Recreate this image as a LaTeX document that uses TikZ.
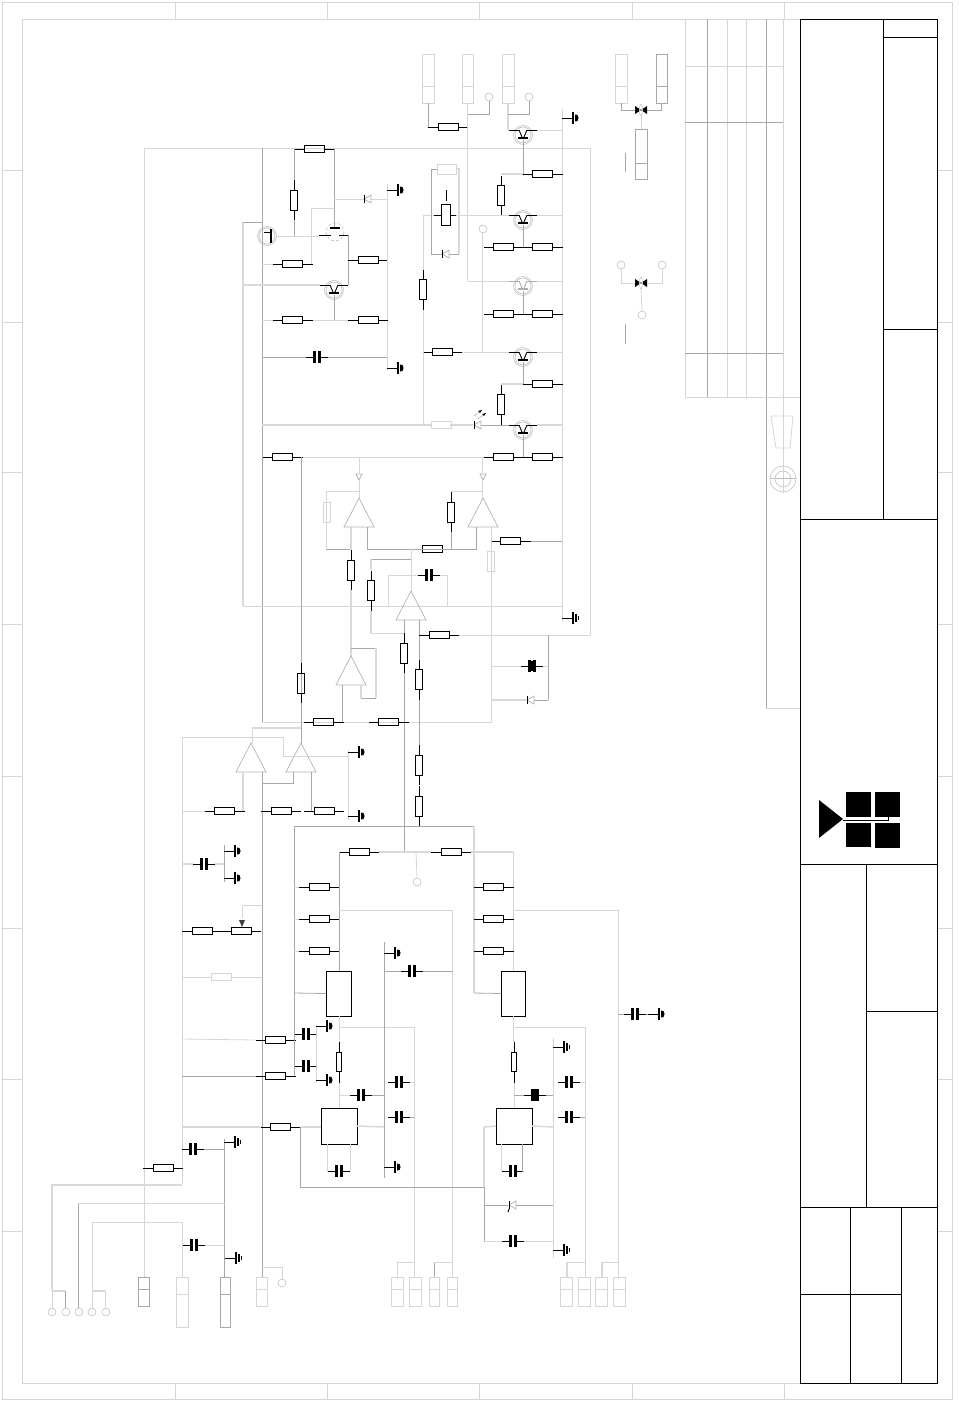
\documentclass[tikz,border=0pt]{standalone}
\usetikzlibrary{positioning}
\tikzset{
    wl/.style={draw=gray!32,line width=.8pt},
    wm/.style={draw=gray!68,line width=.8pt},
    wt/.style={draw=gray!30,line width=1.5pt},
    part/.style={draw=black,line width=.9pt},
    title/.style={draw=black,line width=.9pt},
    pin/.style={circle,draw=gray!50,line width=.6pt,minimum size=8pt,inner sep=0pt},
    box/.style={rectangle,inner sep=0pt,outer sep=0pt}
}
% resistors: name, centre x, centre y
\newcommand{\resh}[4][part]{
    \node[box,#1,minimum width=20pt,minimum height=7pt] (#2) at (#3,#4) {};
    \draw[#1] (#2.west) -- ++(-10,0) coordinate (#2a);
    \draw[#1] (#2.east) -- ++(10,0) coordinate (#2b);
}
\newcommand{\resv}[4][part]{
    \node[box,#1,minimum width=7pt,minimum height=20pt] (#2) at (#3,#4) {};
    \draw[#1] (#2.north) -- ++(0,-10) coordinate (#2a);
    \draw[#1] (#2.south) -- ++(0,10) coordinate (#2b);
}
% capacitor
\newcommand{\capa}[3]{
    \coordinate (#1) at (#2,#3);
    \draw[part,line width=2.2pt] (#1) ++(-2.5,-6) -- ++(0,12);
    \draw[part,line width=2.2pt] (#1) ++(2.5,-6) -- ++(0,12);
    \draw[part] (#1) ++(-2.5,0) -- ++(-8.5,0) coordinate (#1a);
    \draw[part] (#1) ++(2.5,0) -- ++(8.5,0) coordinate (#1b);
}
% grounds
\newcommand{\gnd}[2]{
    \draw[part] (#1,#2) -- ++(11,0);
    \draw[part,line width=1.6pt] (#1,#2) ++(11,-6) -- ++(0,12);
    \fill[black] (#1,#2) ++(13,-3.5) -- ++(2.5,.5) -- ++(1,3) -- ++(-1,3) -- ++(-2.5,.5) -- cycle;
}
\newcommand{\gndb}[2]{
    \draw[part] (#1,#2) -- ++(11,0);
    \draw[part,line width=1.4pt] (#1,#2) ++(11,-6) -- ++(0,12);
    \draw[part,line width=1.2pt] (#1,#2) ++(14,-4) -- ++(0,8);
    \draw[part,line width=1.2pt] (#1,#2) ++(16.5,-2) -- ++(0,4);
}
% thin diode
\newcommand{\diode}[3]{
    \coordinate (#1) at (#2,#3);
    \draw[draw=gray!60,line width=.7pt,fill=white] (#2+4,#3-4) -- (#2+4,#3+4) -- (#2-3,#3) -- cycle;
    \draw[black,line width=.8pt] (#2-3,#3-4) -- (#2-3,#3+4);
}
% small triangle on an op amp output
\newcommand{\dtri}[3]{
    \coordinate (#1) at (#2,#3);
    \draw[draw=gray!60,line width=.7pt,fill=white] (#2-3,#3-3) -- (#2+3,#3-3) -- (#2,#3+3) -- cycle;
}
% transistor, leads on y, base going down
\newcommand{\qdn}[4][black]{
    \coordinate (#2) at (#3,#4);
    \draw[gray!50,line width=.6pt] (#3,#4+5) circle (9.5);
    \draw[gray!50,line width=.6pt] (#3,#4+5) circle (8);
    \draw[#1,line width=.9pt] (#3-14,#4) -- (#3-4,#4) (#3+4,#4) -- (#3+14,#4);
    \draw[#1,line width=.9pt] (#3-4,#4) -- (#3-1,#4+7) (#3+4,#4) -- (#3+1,#4+7);
    \draw[#1,line width=1.8pt] (#3-5,#4+8) -- (#3+5,#4+8);
    \coordinate (#2l) at (#3-14,#4);
    \coordinate (#2r) at (#3+14,#4);
    \coordinate (#2b) at (#3,#4+10);
}
% op amp, apex at x,y
\newcommand{\opamp}[3]{
    \coordinate (#1) at (#2,#3);
    \draw[gray!60,line width=.7pt] (#2,#3) -- (#2+15,#3+29) -- (#2-15,#3+29) -- cycle;
}
% connector: name, left, top, width, height, divider
\newcommand{\conn}[7][wl]{
    \node[box,#1,anchor=north west,minimum width=#5pt,minimum height=#6pt] (#2) at (#3,#4) {};
    \draw[#1] (#3,#4+#7) -- ++(#5,0);
}
\newcommand{\chip}[5]{
    \node[box,part,anchor=north west,minimum width=#4pt,minimum height=#5pt] (#1) at (#2,#3) {};
}
% black diode pair of the two switches
\newcommand{\swt}[1]{
    \fill[black] (635,#1-4) -- (635,#1+4) -- (641,#1) -- cycle;
    \fill[black] (647,#1-4) -- (647,#1+4) -- (641,#1) -- cycle;
    \draw[gray!45,line width=.6pt] (641,#1) ellipse (1.5 and 6);
}
\begin{document}
\begin{tikzpicture}[x=1pt,y=-1pt]
    \useasboundingbox (0,0) rectangle (958,1402);
    % sheet
    \draw[wl] (2,2) rectangle (952,1399);
    \draw[wl] (22,19) rectangle (937,1383);
    \foreach \i in {175,327,479,632,784} {
        \draw[wl] (\i,2) -- (\i,19);
        \draw[wl] (\i,1383) -- (\i,1399);
    }
    \foreach \j in {170,322,472,624,776,928,1079,1231} {
        \draw[wl] (2,\j) -- (22,\j);
        \draw[wl] (937,\j) -- (952,\j);
    }
    % table
    \foreach \i/\s in {685/wl,707/wm,727/wl,746/wl,766/wm} {
        \draw[\s] (\i,19) -- (\i,397);
    }
    \draw[wl] (783,19) -- (783,493);
    \draw[wm] (766,397) -- (766,708);
    \draw[wl] (766,708) -- (800,708);
    \draw[wl] (685,66) -- (783,66);
    \draw[wm] (685,122) -- (783,122);
    \draw[wm] (685,353) -- (783,353);
    \draw[wl] (685,397) -- (800,397);
    \draw[wl] (771,416) -- (793,416) -- (790,448) -- (776,448) -- cycle;
    \draw[gray!50,line width=.6pt] (783,479) circle (13) (783,479) circle (8);
    \draw[gray!50,line width=.6pt] (770,478) -- (796,478);
    % title block
    \draw[title] (800,19) rectangle (937,1383);
    \draw[title] (883,19) -- (883,519);
    \draw[title] (883,37) -- (937,37);
    \draw[title] (883,329) -- (937,329);
    \draw[title] (800,519) -- (937,519);
    \draw[title] (800,864) -- (937,864);
    \draw[title] (866,864) -- (866,1207);
    \draw[title] (866,1011) -- (937,1011);
    \draw[title] (800,1207) -- (937,1207);
    \draw[title] (850,1207) -- (850,1383);
    \draw[title] (901,1207) -- (901,1383);
    \draw[title] (800,1294) -- (901,1294);
    % logo
    \fill[black] (819,800) -- (819,838) -- (843,819) -- cycle;
    \fill[black] (846,792) rectangle (871,817);
    \fill[black] (875,792) rectangle (900,817);
    \fill[black] (846,823) rectangle (871,847);
    \fill[black] (875,823) rectangle (900,848);
    \draw[black,line width=.7pt] (843,820) -- (888,820) -- (888,817);

    % top connectors
    \conn[wl]{ca}{422}{54}{12}{49}{32}
    \conn[wl]{cb}{462}{54}{11}{49}{32}
    \conn[wl]{cc}{502}{54}{12}{49}{32}
    \conn[wl]{cd}{615}{54}{12}{49}{32}
    \conn[wm]{ce}{656}{54}{11}{49}{32}
    \conn[wm]{cf}{635}{129}{12}{50}{34}
    \node[pin] (pa) at (489,97) {};
    \node[pin] (pb) at (529,97) {};
    % switches
    \swt{110}
    \swt{283}
    \node[pin] (pc) at (621,265) {};
    \node[pin] (pd) at (662,265) {};
    \node[pin] (pe) at (642,315) {};
    \draw[wm] (cd.south) |- (635,110);
    \draw[wm] (ce.south) |- (647,110);
    \draw[wl] (641,116) -- (cf.north);
    \draw[wl] (pc.south) |- (635,283);
    \draw[wl] (pd.south) |- (647,283);
    \draw[wl] (641,289) -- (pe.north);
    \draw[wm] (625,153) -- (625,172);
    \draw[wm] (625,324) -- (625,344);

    % outer loops
    \draw[wl] (144,1277) -- (144,148) -- (590,148) -- (590,635);
    \draw[wm] (262,148) -- (262,722);
    \draw[wt] (243,222) -- (243,606);
    \draw[wm] (243,222) -- (262,222);
    \draw[wl] (243,606) -- (562,606);
    \draw[wl] (562,109) -- (562,622);
    \draw[wl] (262,722) -- (491,722) -- (491,527);

    % top right transistors
    \resh[part]{ra}{448}{127}
    \draw[wm] (428,103) |- (raa);
    \draw[wl] (rab) -- (467.5,127);
    \draw[wl] (467.5,103) -- (467.5,281);
    \draw[wm] (467.5,114) -| (pa.south);
    \draw[wt] (508,103) -- (508,130);
    \draw[wm] (508,114) -| (pb.south);
    \qdn{qa}{523}{130}
    \draw[wt] (508,130) -- (qal);
    \draw[wl] (qar) -- (562,130);
    \gnd{562}{118}
    \resh{rb}{542.5}{174}
    \draw[wm] (qab) -- (523,174);
    \draw[wt] (501,174) -- (rba);
    \resv{rc}{501}{195.5}
    \qdn{qb}{523}{215}
    \draw[wl] (423,215) -- (434,215);
    \draw[wl] (456,215) -- (qbl);
    \draw[wl] (qbr) -- (562,215);
    \draw[wm] (qbb) -- (523,247);
    \resh{rd}{503.5}{247}
    \resh{re}{542.5}{247}
    \node[pin] (pf) at (483,229) {};
    \draw[wl] (482.5,233) -- (482.5,352);
    \qdn[gray!65]{qc}{523}{281}
    \draw[wl] (467.5,281) -- (qcl);
    \draw[wl] (qcr) -- (562,281);
    \draw[wm] (qcb) -- (523,314);
    \resh{rf}{503.5}{314}
    \resh{rg}{542.5}{314}
    \qdn{qd}{523}{352}
    \resh{rh}{442}{352}
    \draw[wl] (423,352) -- (rha);
    \draw[wl] (rhb) -- (qdl);
    \draw[wl] (qdr) -- (562,352);
    \draw[wm] (qdb) -- (523,384);
    \draw[wt] (501,384) -- (523,384);
    \resh{ri}{542.5}{384}
    \resv{rj}{501}{404.5}
    \qdn{qe}{523}{425}
    \draw[wm] (qeb) -- (523,457);
    \resh{rk}{503.5}{457}
    \resh{rl}{542.5}{457}
    \draw[wt] (262,425) -- (432,425);
    \draw[wt] (450,425) -- (473,425);
    \draw[wm] (481,425) -- (qel);
    \draw[wt] (qer) -- (562,425);
    \resh[wl]{rm}{441}{425}
    \diode{da}{477}{425}
    \draw[gray!60,line width=.6pt] (474,416) -- (481,411) (478,419) -- (485,414);
    \fill[black] (482,410) -- (478,411) -- (480,413) -- cycle;
    \fill[black] (486,413) -- (482,414) -- (484,416) -- cycle;

    % relay
    \resv{rn}{423}{289.5}
    \node[box,part,minimum width=9pt,minimum height=21pt] (ka) at (445.5,215) {};
    \draw[part] (ka.west) -- (434,215);
    \draw[part] (ka.east) -- (456,215);
    \draw[part] (446,190) -- (446,201);
    \node[box,wl,minimum width=19pt,minimum height=10pt] (ro) at (446.5,169) {};
    \draw[wm] (431,254) |- (ro.west);
    \draw[wt] (ro.east) -| (459,254);
    \draw[wm] (431,254) -- (459,254);
    \diode{db}{445}{254}
    \draw[wl] (423,215) -- (rna);
    \draw[wl] (rnb) -- (423,425);

    % top left block
    \resh{rp}{314}{149}
    \resv{rq}{294}{200}
    \draw[wm] (rpa) -- (294,149) -- (rqa);
    \draw[wm] (rpb) -- (334,149) -- (334,227);
    \draw[wm] (rqb) -- (294,236);
    \draw[gray!50,line width=.6pt] (267,236) circle (9.5) (267,236) circle (8);
    \draw[black,line width=1.8pt] (271,229) -- (271,243);
    \draw[black,line width=.9pt] (264,232) -- (271,232);
    \draw[wl] (276,236) -- (319,236);
    \draw[gray!50,line width=.6pt,densely dashed] (335,232) circle (9);
    \draw[black,line width=1.8pt] (330,228) -- (340,228);
    \draw[black,line width=.9pt] (319,235) -- (331,235) (339,235) -- (348,235);
    \draw[wl] (334,199) -- (387,199);
    \diode{dc}{367}{199}
    \draw[wl] (334,208) -- (311,208) -- (311,264);
    \resh{rr}{292.5}{264}
    \draw[wl] (262,264) -- (rra);
    \draw[wm] (348,235) -- (348,285);
    \resh{rs}{368}{260}
    \draw[wl] (387,184) -- (387,370);
    \gnd{387}{190}
    \gnd{387}{368}
    \qdn{qf}{334}{285}
    \draw[wt] (243,285) -- (qfl);
    \draw[wm] (qfb) -- (334,320);
    \resh{rt}{292.5}{320}
    \resh{ru}{368}{320}
    \draw[wl] (262,320) -- (rta);
    \draw[wl] (rtb) -- (rua);
    \capa{ca1}{317}{357}
    \draw[wm] (262,357) -- (ca1a);
    \draw[wm] (ca1b) -- (387,357);

    % long line from the left block
    \resh{rv}{282.5}{457}
    \draw[wl] (rvb) -- (rka);
    \draw[wm] (301,457) -- (301,743);

    % op amps upper
    \opamp{oa}{359}{498}
    \opamp{ob}{483}{498}
    \dtri{ta}{359}{477}
    \dtri{tb}{483}{477}
    \draw[wl] (359,457) -- (359,474);
    \draw[wl] (359,480) -- (359,498);
    \draw[wl] (482.5,457) -- (482.5,474);
    \draw[wl] (482.5,480) -- (482.5,498);
    \draw[wl] (359,491) -- (326,491) -- (326,549);
    \draw[wm] (326,549) -- (351,549);
    \resv[wl]{rw}{326.5}{512}
    \resv{rx}{351}{570}
    \draw[wt] (351,527) -- (351,550);
    \draw[wt] (351,590) -- (351,656);
    \draw[wm] (367,527) -- (367,549) -- (411,549);
    \resh{ry}{432.5}{549}
    \draw[wm] (411,549) -- (ryb);
    \resv{rz}{451}{512}
    \draw[wl] (rza) -- (451,491) -- (483,491);
    \draw[wm] (rzb) -- (451,549) -- (476,549) -- (476,527);
    \resh{rab}{510.5}{541}
    \draw[wm] (rabb) -- (562,541);
    \resv[wl]{rac}{491}{561}
    % op amp C
    \opamp{oc}{411}{591}
    \draw[wl] (411,549) -- (411,591);
    \draw[wm] (371,559) -- (411,559);
    \resv{rad}{371}{590.5}
    \draw[wt] (371,559) -- (371,570);
    \draw[wt] (371,611) -- (371,633);
    \draw[wl] (371,633) -- (404,633);
    \capa{cb1}{429}{575}
    \draw[wl] (388,606) -- (388,575) -- (cb1a);
    \draw[wl] (cb1b) -- (447,575) -- (447,606);
    \gndb{562}{618}
    % x=404 and x=419
    \resv{rae}{404}{653}
    \draw[wm] (404,620) -- (raea);
    \draw[wm] (raeb) -- (404,852);
    \resv{raf}{419}{679.5}
    \resv{rag}{419}{765}
    \resv{rah}{419}{806}
    \draw[wm] (419,620) -- (rafa);
    \draw[wm] (rafb) -- (raga);
    \draw[wm] (rahb) -- (419,826);
    \resh{rai}{439}{635}
    \draw[wl] (raib) -- (590,635);
    \draw[wm] (548,635) -- (548,700);
    \capa{cc1}{532}{666}
    \fill[black] (529,661) rectangle (535,671);
    \draw[wl] (491,666) -- (cc1a);
    \draw[wl] (cc1b) -- (548,666);
    \diode{dd}{530}{700}
    \draw[wt] (491,700) -- (526,700);
    \draw[wm] (534,700) -- (548,700);

    % op amp D
    \opamp{od}{351}{656}
    \draw[wm] (351,648) -- (376,648);
    \draw[wt] (376,648) -- (376,698);
    \draw[wm] (376,698) -- (361,698);
    \draw[wt] (361,698) -- (361,685);
    \draw[wm] (342,685) -- (342,722);
    \resv{raj}{301}{683}
    \resh{rak}{323.5}{722}
    \resh{ral}{388.5}{722}
    % op amps E and F
    \opamp{oe}{251}{743}
    \opamp{of}{301}{743}
    \draw[wt] (252,728) -- (301,728);
    \draw[wl] (252,728) -- (252,743);
    \draw[wl] (182,1184) -- (182,737) -- (283,737) -- (283,756) -- (348,756);
    \draw[wl] (348,750) -- (348,820);
    \gnd{348}{752}
    \gnd{348}{816}
    \draw[wm] (262,772) -- (262,1277);
    \draw[wm] (262,783) -- (293,783) -- (293,772);
    \draw[wt] (243,772) -- (243,811);
    \draw[wm] (311,772) -- (311,811);
    \resh{ram}{224.5}{811}
    \resh{ran}{281}{811}
    \resh{rao}{324}{811}
    \draw[wl] (182,811) -- (rama);
    % left side
    \capa{cd1}{204}{864}
    \draw[wt] (182,864) -- (cd1a);
    \draw[wt] (cd1b) -- (224,864);
    \draw[wm] (224,845) -- (224,882);
    \gnd{224}{851}
    \gnd{224}{878}
    \resh{rap}{202}{931}
    \resh{raq}{241}{931}
    \draw[wl] (262,905) -- (242,905) -- (242,918);
    \fill[black!75] (239,920) -- (245,920) -- (242,927) -- cycle;
    \resh[wl]{rar}{221.5}{977}
    \draw[wl] (182,977) -- (rara);
    \draw[wl] (rarb) -- (262,977);
    \resh{ras}{275.5}{1040}
    \resh{rat}{275.5}{1076}
    \draw[wl] (182,1039) -- (rasa);
    \draw[wm] (182,1076) -- (rata);
    \resh{rau}{280.5}{1127}
    \draw[wt] (182,1127) -- (raua);
    \draw[wt] (raub) -- (321,1127);
    \capa{ce1}{193}{1149}
    \draw[wm] (ce1b) -- (224,1149);
    \draw[wm] (224,1139) -- (224,1277);
    \gndb{224}{1142}
    \resh{rav}{163}{1168}
    \draw[wt] (52,1291) -- (52,1185) -- (182,1185);
    \draw[wl] (52,1291) -- (52,1308);
    \draw[wm] (78,1308) -- (78,1203);
    \draw[wl] (78,1203) -- (225,1203);
    \draw[wl] (92,1308) -- (92,1222) -- (182,1222) -- (182,1277);
    \capa{cf1}{194}{1245}
    \draw[wl] (cf1b) -- (224,1245);
    \gndb{225}{1258}

    % central block
    \draw[wm] (294,1076) -- (294,826) -- (474,826);
    \draw[wt] (474,826) -- (474,993);
    \resh{raw}{359}{852}
    \resh{rax}{451}{852}
    \draw[wt] (rawb) -- (raxa);
    \draw[wt] (raxb) -- (513,852);
    \draw[wl] (513,852) -- (513,971);
    \draw[wm] (339,852) -- (339,971);
    \node[pin] (pg) at (417,882) {};
    \draw[wl] (416,852) -- (pg.north);
    \foreach \n/\y in {a/887,b/919,c/951} {
        \resh{rc\n}{319}{\y}
        \resh{rd\n}{493.5}{\y}
        \draw[wl] (294,\y) -- (rc\n a);
    }
    \draw[wl] (339,910) -- (452.5,910) -- (452.5,1262);
    \draw[wl] (513,910) -- (618,910) -- (618,1262);
    \chip{ub}{326}{971}{25}{45}
    \chip{uc}{501}{971}{24}{45}
    \draw[wm] (294,993) -- (ub.west);
    \draw[wm] (474,993) -- (uc.west);
    \chip{ud}{321}{1108}{36}{36}
    \chip{ue}{496}{1108}{36}{36}
    % below ub
    \draw[wl] (339,1016) -- (339,1042);
    \draw[wl] (513,1016) -- (513,1042);
    \draw[wl] (339,1027) -- (414,1027) -- (414,1262);
    \draw[wl] (513,1027) -- (585,1027) -- (585,1262);
    \node[box,part,minimum width=5pt,minimum height=19pt] (rba1) at (339,1062) {};
    \draw[part] (339,1042) -- (339,1052.5) (339,1071.5) -- (339,1083);
    \node[box,part,minimum width=5pt,minimum height=19pt] (rba2) at (514,1062) {};
    \draw[part] (514,1042) -- (514,1052.5) (514,1071.5) -- (514,1083);
    \draw[wl] (339,1083) -- (339,1108);
    \draw[wl] (514,1083) -- (514,1108);
    % caps
    \capa{cg1}{306}{1034}
    \capa{cg2}{306}{1066}
    \draw[wl] (316,1025) -- (316,1083);
    \gnd{316}{1026}
    \gnd{316}{1080}
    \capa{ch1}{361}{1095}
    \draw[wl] (339,1095) -- (ch1a);
    \draw[wm] (ch1b) -- (384,1095);
    \draw[wm] (384,942) -- (384,1178);
    \gnd{384}{953}
    \gnd{384}{1167}
    \capa{ci1}{412}{971}
    \draw[wm] (384,971) -- (ci1a);
    \draw[wm] (ci1b) -- (453,971);
    \capa{cj1}{399}{1082}
    \capa{cj2}{399}{1117}
    \draw[wl] (cj1b) -- (414,1082);
    \draw[wm] (cj2b) -- (414,1117);
    \draw[wt] (ud.east) -- (384,1127);
    \draw[wt] (ue.east) -- (553,1127);
    \draw[wt] (484,1127) -- (ue.west);
    \draw[wm] (300,1127) -- (300,1187) -- (484,1187);
    \draw[wt] (484,1127) -- (484,1187);
    \draw[wm] (484,1187) -- (484,1241);
    % right
    \draw[wl] (553,1038) -- (553,1258);
    \gndb{553}{1047}
    \capa{ck1}{569}{1082}
    \capa{ck2}{569}{1117}
    \draw[wl] (ck1b) -- (585,1082);
    \draw[wm] (ck2b) -- (585,1117);
    \capa{cl1}{535}{1095}
    \fill[black] (532,1089) rectangle (538,1101);
    \draw[wm] (514,1095) -- (cl1a);
    \draw[wm] (cl1b) -- (553,1095);
    \capa{cm1}{339}{1171}
    \capa{cm2}{513}{1171}
    \draw[wl] (cm1a) -- (327,1171) -- (327,1144);
    \draw[wl] (cm1b) -- (350,1171) -- (350,1144);
    \draw[wl] (cm2a) -- (501,1171) -- (501,1144);
    \draw[wm] (cm2b) -- (522,1171) -- (522,1144);
    \diode{de}{512}{1205}
    \draw[wm] (484,1205) -- (508,1205);
    \draw[wm] (516,1205) -- (553,1205);
    \draw[black,line width=1pt] (509,1209) -- (508,1212);
    \capa{cn1}{513}{1241}
    \draw[wl] (484,1241) -- (cn1a);
    \draw[wl] (cn1b) -- (553,1241);
    \gndb{553}{1250}
    \capa{co1}{635}{1014}
    \draw[wm] (618,1014) -- (co1a);
    \draw[wm] (co1b) -- (648,1014);
    \gnd{648}{1014}

    % bottom connectors
    \conn[wm]{cq}{138}{1277}{11}{29}{12}
    \conn[wl]{cr}{176}{1277}{12}{50}{17}
    \conn[wm]{cs}{220}{1277}{10}{50}{17}
    \conn[wl]{ct}{256}{1277}{11}{29}{12}
    \node[pin] (ph) at (282,1283) {};
    \draw[wl] (262,1267) -| (ph.north);
    \foreach \n/\x/\w in {a/391/12,b/409/12,c/429/10,d/447/10,e/560/12,f/578/12,g/595/12,h/613/12} {
        \conn[wl]{cu\n}{\x}{1277}{\w}{29}{12}
    }
    \draw[wl] (397,1277) -- (397,1262) -- (414,1262) -- (414,1277);
    \draw[wm] (434,1277) -- (434,1262);
    \draw[wl] (434,1262) -- (452.5,1262) -- (452.5,1277);
    \draw[wt] (567,1277) -- (567,1262);
    \draw[wl] (567,1262) -- (585,1262) -- (585,1277);
    \draw[wt] (602,1277) -- (602,1262);
    \draw[wl] (602,1262) -- (618,1262) -- (618,1277);
    \foreach \n/\x in {a/52,b/66,c/79,d/92,e/106} {
        \node[pin] (pt\n) at (\x,1312) {};
    }
    \draw[wt] (52,1291) -- (65,1291);
    \draw[wm] (65,1291) -- (65,1308);
    \draw[wt] (92,1291) -- (105,1291);
    \draw[wl] (105,1291) -- (105,1308);
\end{tikzpicture}
\end{document}
